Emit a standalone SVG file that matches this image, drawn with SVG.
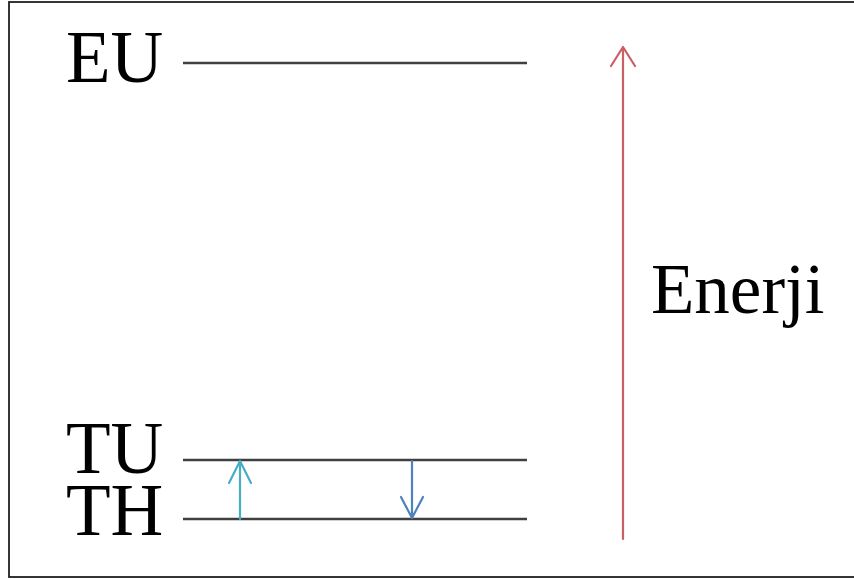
<svg xmlns="http://www.w3.org/2000/svg" width="854" height="579" viewBox="0 0 854 579">
  <style>
    .label { font-family: "Liberation Serif", "Times New Roman", serif; font-size: 73px; fill: #000; }
    .level { stroke: #404040; stroke-width: 2.5; fill: none; }
    .arrow { fill: none; stroke-width: 2.2; stroke-linecap: round; stroke-linejoin: round; }
  </style>
  <rect x="9" y="2" width="850" height="575" fill="#fff" stroke="#202020" stroke-width="1.8"/>

  <g id="level-eu">
    <text class="label" x="66" y="82">EU</text>
    <line class="level" x1="183" y1="63" x2="527" y2="63"/>
  </g>
  <g id="level-tu">
    <text class="label" x="66" y="473">TU</text>
    <line class="level" x1="183" y1="460" x2="527" y2="460"/>
  </g>
  <g id="level-th">
    <text class="label" x="66" y="535">TH</text>
    <line class="level" x1="183" y1="519" x2="527" y2="519"/>
  </g>
  <g id="energy-label">
    <text class="label" x="651" y="313" style="font-size:71px">Enerji</text>
  </g>

  <g id="connectors">
    <!-- excitation TH -> TU -->
    <path class="arrow" stroke="#4bacc6" d="M240 519 V461 M229 483 L240 461 L251 483"/>
    <!-- relaxation TU -> TH -->
    <path class="arrow" stroke="#4f81bd" d="M412 461 V518 M401 497 L412 518 L423 497"/>
    <!-- energy axis -->
    <path class="arrow" stroke="#cc5f63" d="M623 539 V47 M611 66 L623 47 L635 66"/>
  </g>
</svg>
